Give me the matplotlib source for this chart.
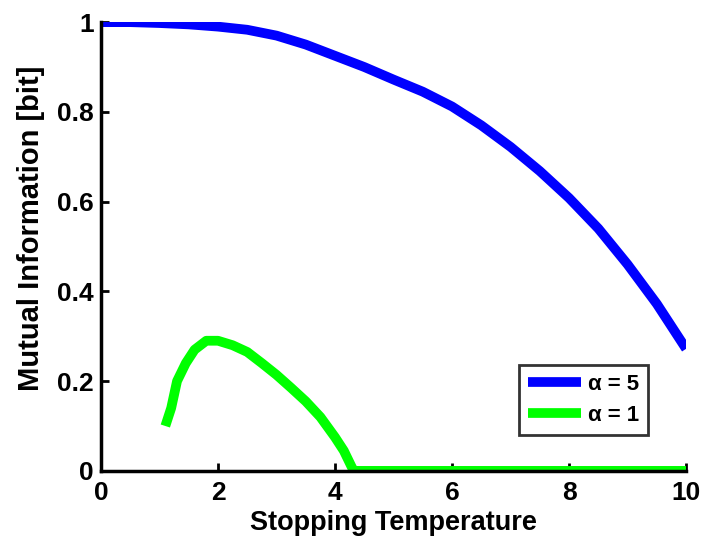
import matplotlib
matplotlib.use("Agg")
import matplotlib.pyplot as plt

# Data
temp_a5 = [0, 0.5, 1, 1.5, 2, 2.5, 3, 3.5, 4, 4.5, 5, 5.5, 6, 6.5, 7, 7.5, 8, 8.5, 9, 9.5, 10]
mi_a5 = [1.0, 1.0, 0.998, 0.995, 0.99, 0.983, 0.97, 0.95, 0.925, 0.9, 0.872, 0.845, 0.812, 0.77, 0.722, 0.668, 0.608, 0.54, 0.46, 0.372, 0.272]

temp_a1 = [1.1, 1.2, 1.3, 1.45, 1.6, 1.8, 2.0, 2.25, 2.5, 2.75, 3.0, 3.25, 3.5, 3.75, 4.0, 4.15, 4.28, 4.32, 5, 6, 7, 8, 9, 10]
mi_a1 = [0.10, 0.14, 0.20, 0.24, 0.27, 0.29, 0.29, 0.28, 0.265, 0.24, 0.214, 0.185, 0.155, 0.12, 0.075, 0.045, 0.01, 0.0, 0.0, 0.0, 0.0, 0.0, 0.0, 0.0]

labels = ["α = 5", "α = 1"]
xticks = [0, 2, 4, 6, 8, 10]
yticks = [0, 0.2, 0.4, 0.6, 0.8, 1]
ytick_labels = ['0', '0.2', '0.4', '0.6', '0.8', '1']

plt.rcParams['font.family'] = ['Liberation Sans', 'DejaVu Sans']
plt.rcParams['font.weight'] = 'bold'

fig = plt.figure(figsize=(7.11, 5.40), dpi=100)
ax = fig.add_axes([0.142, 0.128, 0.823, 0.831])

ax.plot(temp_a5, mi_a5, color='#0000ff', lw=7, label=labels[0], solid_capstyle='butt')
ax.plot(temp_a1, mi_a1, color='#00ff00', lw=7, label=labels[1], solid_capstyle='butt')

ax.set_xlim(0, 10)
ax.set_ylim(0, 1)
ax.set_xticks(xticks)
ax.set_yticks(yticks)
ax.set_yticklabels(ytick_labels)
ax.tick_params(direction='in', length=6, width=2, labelsize=19)
ax.tick_params(axis='x', pad=7)
ax.tick_params(axis='y', pad=5)
for lbl in ax.get_xticklabels() + ax.get_yticklabels():
    lbl.set_fontweight('bold')
ax.spines['top'].set_visible(False)
ax.spines['right'].set_visible(False)
ax.spines['left'].set_linewidth(2.5)
ax.spines['bottom'].set_linewidth(2.5)

ax.set_xlabel("Stopping Temperature", fontsize=19.5, fontweight='bold', labelpad=4)
ax.set_ylabel("Mutual Information [bit]", fontsize=21, fontweight='bold')
ax.yaxis.set_label_coords(-0.095, 0.54)

leg = ax.legend(loc='lower right', bbox_to_anchor=(0.935, 0.08),
                frameon=True, fancybox=False, handlelength=2.4, borderpad=0.4,
                labelspacing=0.45, handletextpad=0.3, borderaxespad=0,
                prop={'weight': 'bold', 'size': 16})
leg.get_frame().set_edgecolor('black')
leg.get_frame().set_linewidth(2)

fig.savefig("out.png", dpi=100)
